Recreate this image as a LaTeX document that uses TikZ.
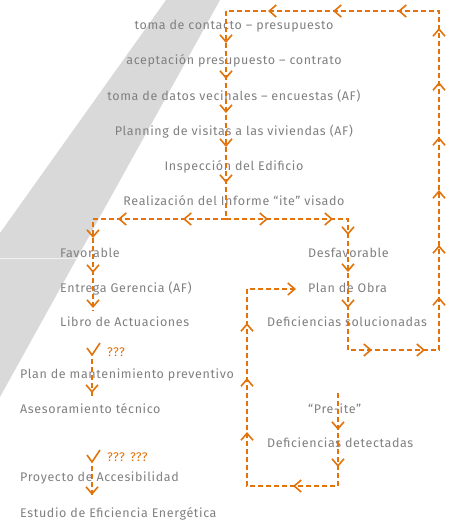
\documentclass[tikz,border=0pt]{standalone}
\usepackage{fontspec}
\setmainfont{Fira Sans}[LetterSpace=5]
\usepackage{tikz}
\usetikzlibrary{arrows.meta,decorations.markings,positioning}
\definecolor{iteOrange}{RGB}{226,114,10}
\definecolor{iteGray}{RGB}{128,128,128}
\definecolor{iteBand}{RGB}{217,217,217}
\tikzset{chev/.tip={Straight Barb[length=7pt,width=12pt]}}

\begin{document}
\begin{tikzpicture}[x=1pt,y=-1pt,
  flow/.style={iteOrange, line width=1.6pt, dash pattern=on 5pt off 3pt},
  arrowat/.style={postaction={decorate, decoration={markings, mark=at position #1 with {\arrow{chev}}}}},
  lbl/.style={text=iteGray, font=\fontsize{12.5}{14}\selectfont, inner sep=0pt},
  qlbl/.style={text=iteOrange, font=\fontsize{12.5}{14}\selectfont, inner sep=0pt, anchor=base west},
  check/.pic={\draw[iteOrange, line width=1.6pt] (-5,-7) -- (0,0) -- (8,-12);}]
\useasboundingbox (0,0) rectangle (452,520);
\fill[iteBand] (166,0) -- (220,0) -- (0,397) -- (0,233) -- cycle;
\draw[white!60!iteBand, line width=0.6pt] (0,258) -- (78,258);

\node[lbl, anchor=base] (contacto) at (234,29.5) {toma de contacto – presupuesto};
\node[lbl, anchor=base] (aceptacion) at (234,64.5) {aceptación presupuesto – contrato};
\node[lbl, anchor=base] (datos) at (234,100) {toma de datos vecinales – encuestas (AF)};
\node[lbl, anchor=base] (planning) at (234,135) {Planning de visitas a las viviendas (AF)};
\node[lbl, anchor=base] (inspeccion) at (234,170.5) {Inspección del Edificio};
\node[lbl, anchor=base] (informe) at (234,205.5) {Realización del Informe “ite” visado};

\node[lbl, anchor=base west] (favorable) at (60,257.5) {Favorable};
\node[lbl, anchor=base west] (entrega) at (60,292.5) {Entrega Gerencia (AF)};
\node[lbl, anchor=base west] (libro) at (60,326.5) {Libro de Actuaciones};
\node[lbl, anchor=base west] (mantenimiento) at (20,378.5) {Plan de mantenimiento preventivo};
\node[lbl, anchor=base west] (asesoramiento) at (20,413.5) {Asesoramiento técnico};
\node[lbl, anchor=base west] (accesibilidad) at (20,481.5) {Proyecto de Accesibilidad};
\node[lbl, anchor=base west] (eficiencia) at (20,517.5) {Estudio de Eficiencia Energética};
\node[qlbl] (q1) at (107,356.5) {???};
\node[qlbl] (q2) at (107,461.5) {??? ???};

\node[lbl, anchor=base west] (desfavorable) at (308,257.5) {Desfavorable};
\node[lbl, anchor=base west] (obra) at (308,292.5) {Plan de Obra};
\node[lbl, anchor=base west] (solucionadas) at (267,326.5) {Deficiencias solucionadas};
\node[lbl, anchor=base west] (preite) at (308,413.5) {“Pre-ite”};
\node[lbl, anchor=base west] (detectadas) at (267,447.5) {Deficiencias detectadas};

\coordinate (topL) at (226,11);
\coordinate (topR) at (439,11);
\coordinate (fork) at (226,219);
\coordinate (forkL) at (93,219);
\coordinate (forkR) at (348,219);
\coordinate (favEnd) at (93,311);
\coordinate (loopB) at (348,350);
\coordinate (loopBR) at (439,350);
\coordinate (chk1) at (92,355);
\coordinate (chk1Start) at (92,359);
\coordinate (chk1End) at (92,396);
\coordinate (chk2) at (92,462);
\coordinate (chk2Start) at (92,466);
\coordinate (chk2End) at (92,498);
\coordinate (preTop) at (338,393);
\coordinate (preBot) at (338,486);
\coordinate (lowL) at (247,486);
\coordinate (lowTop) at (247,289);
\coordinate (obraIn) at (296,289);

\draw[flow, arrowat/.list={32pt,68pt,102pt,136pt,172pt}] (topL) -- (fork);
\draw[flow, arrowat/.list={43pt,108pt,152pt,187pt,222pt}] (fork) -- (forkL) -- (favEnd);
\draw[flow, arrowat/.list={42pt,107pt,138pt,175pt,211pt,277pt,330pt,397pt,449pt,504pt,557pt,612pt,666pt,724pt,789pt,854pt}]
  (fork) -- (forkR) -- (loopB) -- (loopBR) -- (topR) -- (topL);
\draw[flow, arrowat/.list={34pt}] (chk1Start) -- (chk1End);
\draw[flow, arrowat/.list={29pt}] (chk2Start) -- (chk2End);
\pic at (chk1) {check};
\pic at (chk2) {check};
\draw[flow, -chev, arrowat/.list={37pt,74pt,138pt,238pt,292pt,347pt}]
  (preTop) -- (preBot) -- (lowL) -- (lowTop) -- (obraIn);
\end{tikzpicture}
\end{document}
